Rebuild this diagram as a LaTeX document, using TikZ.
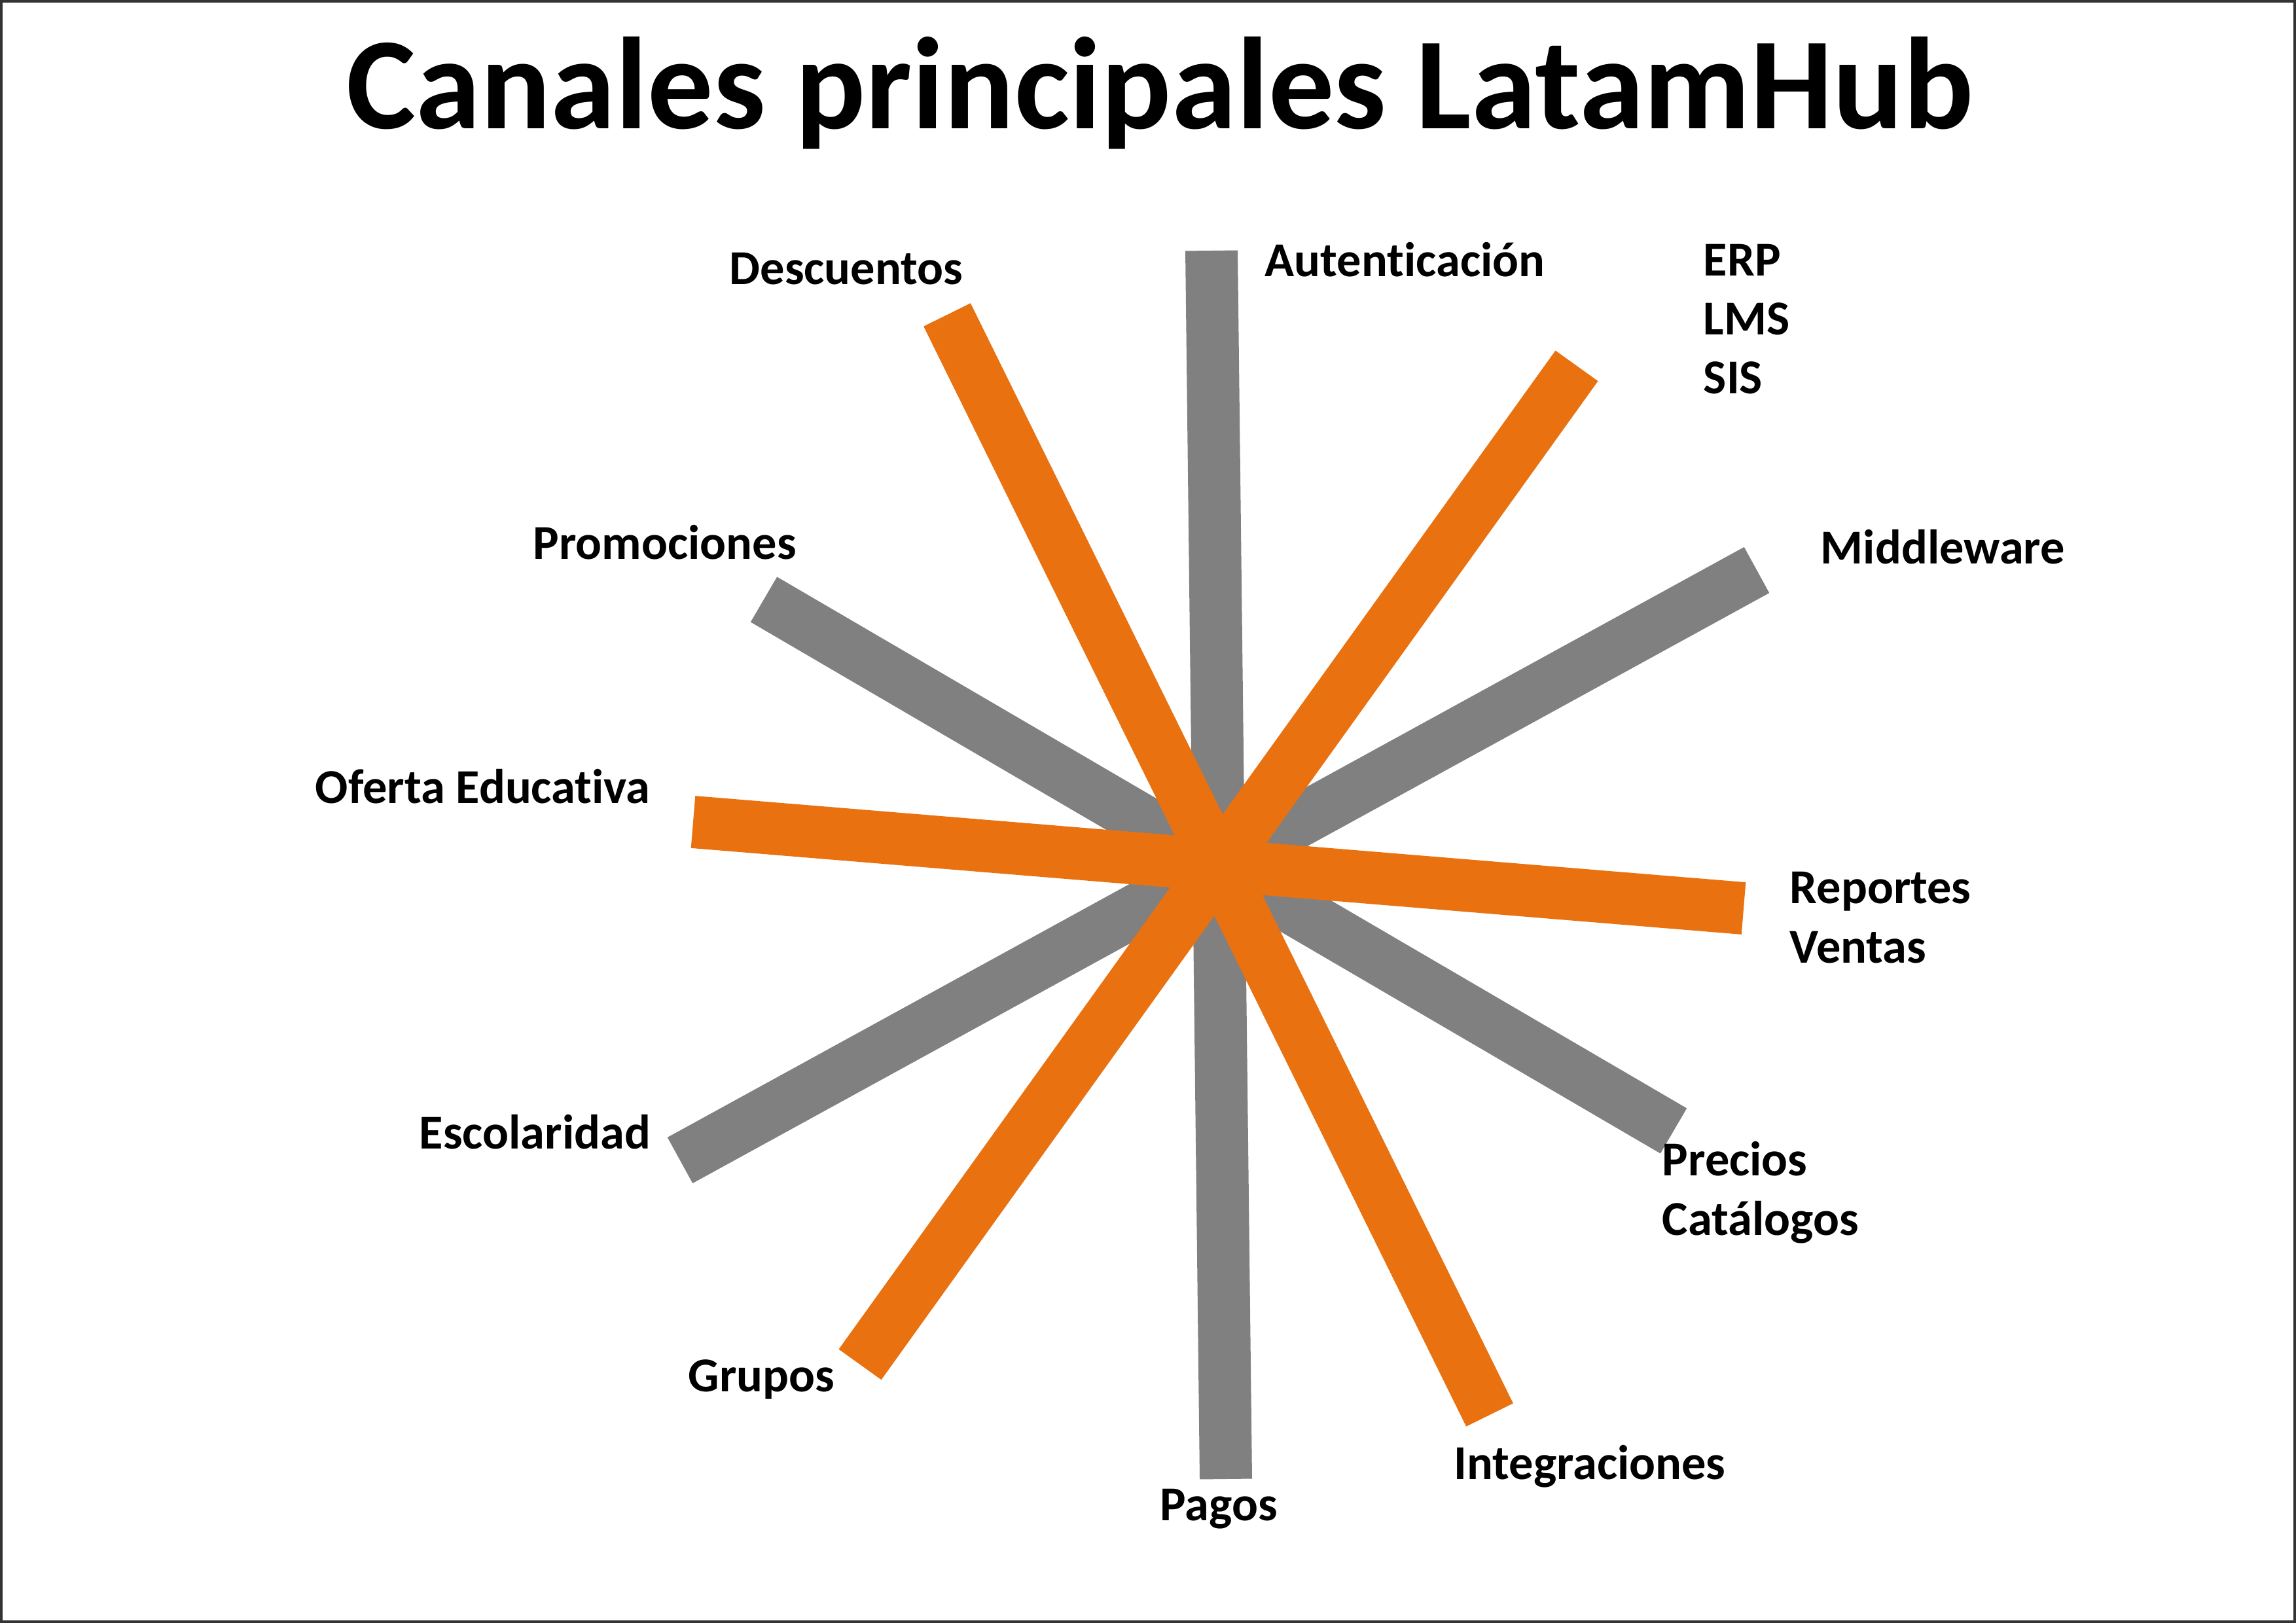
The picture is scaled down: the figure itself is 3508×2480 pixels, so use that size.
\documentclass[tikz,border=0pt]{standalone}
\usepackage{fontspec}
\setmainfont{Carlito}[Ligatures=NoCommon]
\definecolor{barorange}{RGB}{233,113,16}
\definecolor{bargray}{RGB}{128,128,128}
\tikzset{
  graybar/.style={draw=bargray, line width=20pt, line cap=butt},
  orangebar/.style={draw=barorange, line width=20pt, line cap=butt},
  lbl/.style={anchor=base west, inner sep=0pt, font=\fontsize{18.6pt}{22.6pt}\selectfont\bfseries, align=left},
  ttl/.style={anchor=base, inner sep=0pt, font=\fontsize{50pt}{60pt}\selectfont\bfseries}
}
\begin{document}
\begin{tikzpicture}[x=0.25pt,y=-0.25pt]
\useasboundingbox (0,0) rectangle (3508,2480);
\draw[line width=1pt, draw=black!80] (2,2) rectangle (3506,2478);
\node[ttl] (title) at (1772,197) {Canales principales LatamHub};
% bar end points
\coordinate (aT) at (1851,383);   \coordinate (aB) at (1873,2260);
\coordinate (bT) at (1447,481);   \coordinate (bB) at (2276,2162);
\coordinate (cT) at (2409,559);   \coordinate (cB) at (1314,2085);
\coordinate (dR) at (2684,871);   \coordinate (dL) at (1039,1773);
\coordinate (eL) at (1167,916);   \coordinate (eR) at (2557,1728);
\coordinate (fL) at (1059,1256);  \coordinate (fR) at (2664,1388);
% gray bars
\draw[graybar] (aT) -- (aB);
\draw[graybar] (dR) -- (dL);
\draw[graybar] (eL) -- (eR);
% orange bars
\draw[orangebar] (bT) -- (bB);
\draw[orangebar] (cT) -- (cB);
\draw[orangebar] (fL) -- (fR);
% labels (multi-line nodes are placed by the baseline of their last line)
\node[lbl] (desc) at (1114,435) {Descuentos};
\node[lbl] (auth) at (1932,423) {Autenticación};
\node[lbl] (erp) at (2602,602) {ERP\\LMS\\SIS};
\node[lbl] (mid) at (2781,862) {Middleware};
\node[lbl] (promo) at (814,855) {Promociones};
\node[lbl] (ofer) at (481,1227) {Oferta Educativa};
\node[lbl] (rep) at (2734,1471) {Reportes\\Ventas};
\node[lbl] (esc) at (640,1755) {Escolaridad};
\node[lbl] (prec) at (2539,1887) {Precios\\Catálogos};
\node[lbl] (grup) at (1051,2126) {Grupos};
\node[lbl] (integ) at (2221,2260) {Integraciones};
\node[lbl] (pagos) at (1772,2323) {Pagos};
\end{tikzpicture}
\end{document}
